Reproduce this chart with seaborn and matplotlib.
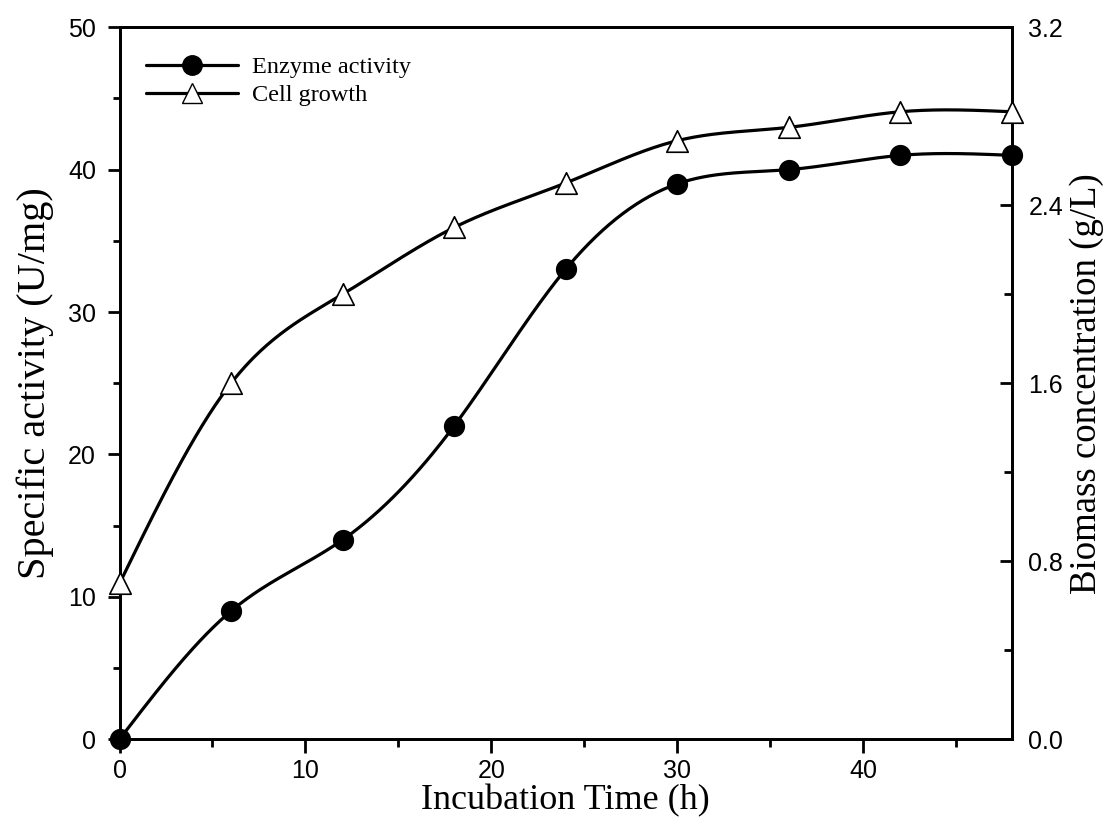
import numpy as np
import pandas as pd
import matplotlib
matplotlib.use("Agg")
import matplotlib.pyplot as plt
import seaborn as sns
from matplotlib.ticker import MultipleLocator
from matplotlib.lines import Line2D

time_h = [0, 6, 12, 18, 24, 30, 36, 42, 48]
enzyme_activity = [0, 9, 14, 22, 33, 39, 40, 41, 41]
cell_growth = [0.70, 1.60, 2.00, 2.30, 2.50, 2.69, 2.75, 2.82, 2.82]


def natural_spline(x, y, n=400):
    x = np.asarray(x, float)
    y = np.asarray(y, float)
    k = len(x)
    h = np.diff(x)
    A = np.zeros((k, k))
    b = np.zeros(k)
    A[0, 0] = A[-1, -1] = 1
    for i in range(1, k - 1):
        A[i, i - 1] = h[i - 1]
        A[i, i] = 2 * (h[i - 1] + h[i])
        A[i, i + 1] = h[i]
        b[i] = 3 * ((y[i + 1] - y[i]) / h[i] - (y[i] - y[i - 1]) / h[i - 1])
    c = np.linalg.solve(A, b)
    xs = np.linspace(x[0], x[-1], n)
    ys = np.empty_like(xs)
    for j, xv in enumerate(xs):
        i = min(np.searchsorted(x, xv, side="right") - 1, k - 2)
        dx = xv - x[i]
        bi = (y[i + 1] - y[i]) / h[i] - h[i] * (2 * c[i] + c[i + 1]) / 3
        di = (c[i + 1] - c[i]) / (3 * h[i])
        ys[j] = y[i] + bi * dx + c[i] * dx ** 2 + di * dx ** 3
    return xs, ys


sns.set_theme(style="ticks")
plt.rcParams["font.family"] = ["Liberation Sans", "DejaVu Sans"]
plt.rcParams.update({
    "axes.linewidth": 2.0,
    "text.color": "black",
    "axes.labelcolor": "black",
    "xtick.color": "black",
    "ytick.color": "black",
    "axes.edgecolor": "black",
})

fig = plt.figure(figsize=(11.07, 8.25), dpi=100)
ax = fig.add_axes([0.108, 0.104, 0.806, 0.863])
ax2 = ax.twinx()

df = pd.DataFrame({"t": time_h, "enz": enzyme_activity, "cell": cell_growth})
xe, ye = natural_spline(time_h, enzyme_activity)
xc, yc = natural_spline(time_h, cell_growth)

sns.lineplot(x=xe, y=ye, ax=ax, color="black", linewidth=2.3, legend=False)
sns.scatterplot(data=df, x="t", y="enz", ax=ax, color="black", s=200,
                marker="o", edgecolor="black", zorder=5, clip_on=False, legend=False)
sns.lineplot(x=xc, y=yc, ax=ax2, color="black", linewidth=2.3, legend=False)
sns.scatterplot(data=df, x="t", y="cell", ax=ax2, color="white", s=240,
                marker="^", edgecolor="black", linewidth=1.2, zorder=5,
                clip_on=False, legend=False)

ax.set_xlim(0, 48)
ax.set_ylim(0, 50)
ax2.set_ylim(0, 3.2)

ax.xaxis.set_major_locator(MultipleLocator(10))
ax.xaxis.set_minor_locator(MultipleLocator(5))
ax.yaxis.set_major_locator(MultipleLocator(10))
ax.yaxis.set_minor_locator(MultipleLocator(5))
ax2.yaxis.set_minor_locator(MultipleLocator(0.4))
ax2.set_yticks([0, 0.8, 1.6, 2.4, 3.2])
ax2.set_yticklabels(["0.0", "0.8", "1.6", "2.4", "3.2"])

ax.tick_params(axis="y", which="major", direction="out", length=9, width=2,
               labelsize=18, pad=8, right=False)
ax.tick_params(axis="y", which="minor", direction="out", length=5, width=2,
               right=False)
ax.tick_params(axis="x", which="major", direction="out", length=10, width=2,
               labelsize=18, pad=4, top=False)
ax.tick_params(axis="x", which="minor", direction="out", length=6, width=2,
               top=False)
ax2.tick_params(axis="y", which="major", direction="in", length=9, width=2,
                labelsize=18, pad=12)
ax2.tick_params(axis="y", which="minor", direction="in", length=6, width=2)

for a in (ax, ax2):
    for s in a.spines.values():
        s.set_visible(True)
        s.set_linewidth(2.0)
        s.set_color("black")

serif = ["Liberation Serif", "DejaVu Serif"]
ax.set_xlabel("Incubation Time (h)", fontsize=26, family=serif, labelpad=1)
ax.set_ylabel("Specific activity (U/mg)", fontsize=29, family=serif, labelpad=10)
ax2.set_ylabel("Biomass concentration (g/L)", fontsize=26.5, family=serif, labelpad=4)

handles = [
    Line2D([], [], color="black", lw=2.3, marker="o", markersize=14,
           markerfacecolor="black"),
    Line2D([], [], color="black", lw=2.3, marker="^", markersize=15,
           markerfacecolor="white", markeredgecolor="black"),
]
leg = ax.legend(handles, ["Enzyme activity", "Cell growth"], loc="upper left",
                bbox_to_anchor=(0.005, 0.99), frameon=False, handlelength=3.8,
                labelspacing=0.25, handletextpad=0.55,
                prop={"family": serif, "size": 17.5})

fig.savefig("out.png", dpi=100)
